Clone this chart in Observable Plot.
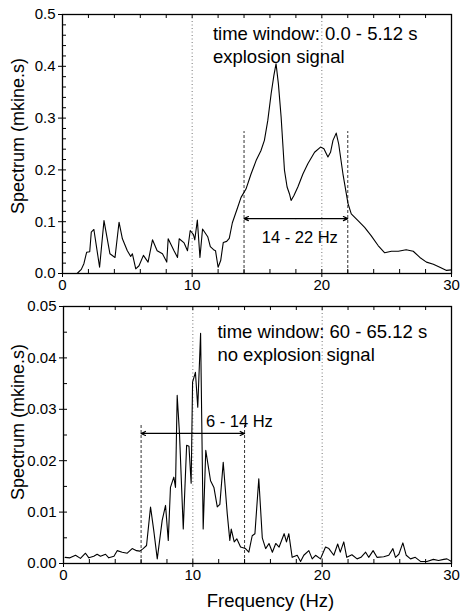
<!DOCTYPE html>
<html><head><meta charset="utf-8">
<script src="https://cdn.jsdelivr.net/npm/d3@7"></script>
<script src="https://cdn.jsdelivr.net/npm/@observablehq/plot@0.6"></script>
<style>
body{margin:0;background:#fff;}
#chart{width:460px;}
#chart svg{display:block;}
</style></head><body><div id="chart"></div>
<script>
// ---- data: top panel (time window 0.0 - 5.12 s) ----
const freqTop = [0,0.5,1.13,1.45,1.65,1.86,2.1,2.22,2.42,2.86,3.2,3.66,4.05,4.36,4.62,5.0,5.26,5.39,5.65,5.9,6.24,6.6,6.94,7.3,7.71,8.04,8.15,8.6,8.87,9.0,9.38,9.64,9.85,10.1,10.2,10.4,10.6,10.8,11.2,11.4,11.65,11.8,12.0,12.2,12.4,12.66,12.86,13.1,13.5,13.77,14.15,14.54,14.93,15.3,15.57,15.83,16.09,16.3,16.47,16.65,16.86,17.12,17.32,17.5,17.63,17.84,18.15,18.54,18.92,19.44,19.9,20.16,20.47,20.67,20.86,21.11,21.3,21.63,22.02,22.27,22.79,23.3,23.8,24.34,24.85,25.37,25.9,26.5,27.05,27.56,28.07,28.6,29.1,29.62,30.0];
const specTop = [0,0,0,0.008,0.019,0.041,0.042,0.080,0.085,0.012,0.102,0.038,0.031,0.099,0.067,0.044,0.033,0.038,0.009,0.015,0.035,0.022,0.065,0.044,0.038,0.022,0.067,0.044,0.031,0.067,0.059,0.044,0.083,0.075,0.065,0.103,0.031,0.086,0.071,0.052,0.046,0.044,0.012,0.025,0.060,0.062,0.068,0.098,0.127,0.147,0.163,0.192,0.218,0.237,0.257,0.295,0.347,0.382,0.405,0.366,0.302,0.199,0.167,0.154,0.141,0.150,0.167,0.192,0.212,0.234,0.244,0.241,0.225,0.234,0.257,0.271,0.250,0.192,0.135,0.115,0.102,0.089,0.073,0.054,0.040,0.043,0.043,0.046,0.043,0.031,0.022,0.018,0.012,0.006,0.007];

// ---- data: bottom panel (time window 60 - 65.12 s) ----
const freqBottom = [0.12,0.5,0.93,1.31,1.7,1.96,2.34,2.6,2.86,3.25,3.5,3.9,4.15,4.54,4.93,5.31,5.65,5.9,6.16,6.42,6.73,6.98,7.25,7.63,7.89,8.1,8.27,8.53,8.66,8.79,8.97,9.26,9.52,9.7,9.87,9.98,10.2,10.38,10.6,10.8,11.0,11.37,11.63,11.89,12.09,12.35,12.66,12.86,12.97,13.2,13.4,13.69,14.07,14.33,14.59,14.8,15.1,15.37,15.63,15.89,16.15,16.41,16.67,17.06,17.24,17.42,17.68,18.07,18.33,18.58,18.97,19.23,19.49,19.87,20.26,20.52,20.9,21.2,21.4,21.67,21.9,22.3,22.7,23.0,23.36,23.6,23.94,24.24,24.76,25.15,25.47,25.67,25.93,26.24,26.5,26.83,27.2,27.6,28.1,28.6,29.0,29.4,29.65,30.0];
const specBottom = [0.0012,0.0011,0.0016,0.0010,0.0020,0.0011,0.0014,0.0018,0.0014,0.0018,0.0011,0.0014,0.0025,0.0022,0.0020,0.0029,0.0025,0.0024,0.0029,0.0035,0.0110,0.0064,0.0009,0.0084,0.0113,0.0045,0.0148,0.0168,0.0148,0.0327,0.0252,0.0067,0.0230,0.0228,0.0156,0.0353,0.0372,0.0304,0.0448,0.0067,0.0220,0.0161,0.0148,0.0110,0.0115,0.0197,0.0097,0.0045,0.0067,0.0042,0.0048,0.0032,0.0029,0.0022,0.0054,0.0058,0.0165,0.0050,0.0029,0.0039,0.0022,0.0039,0.0032,0.0058,0.0042,0.0058,0.0012,0.0016,0.0004,0.0016,0.0025,0.0009,0.0016,0.0009,0.0032,0.0029,0.0016,0.0038,0.0022,0.0042,0.0012,0.0017,0.0009,0.0012,0.0022,0.0012,0.0025,0.0012,0.0013,0.0016,0.0029,0.0012,0.0018,0.0040,0.0016,0.0009,0.0012,0.0004,0.0004,0.0008,0.0006,0.0008,0.0009,0.0004];

// ---- ticks ----
const xMajorTicks = [0, 10, 20, 30];
const xMinorTicks = [0,2,4,6,8,10,12,14,16,18,20,22,24,26,28,30];
const yTopMajor = [0, 0.1, 0.2, 0.3, 0.4, 0.5];
const yTopMinor = [0,0.02,0.04,0.06,0.08,0.1,0.12,0.14,0.16,0.18,0.2,0.22,0.24,0.26,0.28,0.3,0.32,0.34,0.36,0.38,0.4,0.42,0.44,0.46,0.48,0.5];
const yBotMajor = [0, 0.01, 0.02, 0.03, 0.04, 0.05];
const yBotMinor = [0,0.005,0.01,0.015,0.02,0.025,0.03,0.035,0.04,0.045,0.05];
const gridFreqs = [10, 20];

// ---- annotations ----
const topBand = [14, 22];          const topBandHeight = 0.274; const topArrowLevel = 0.106;
const topBandLabel = "14 - 22 Hz"; const topBandLabelPos = [18.3, 0.069];
const botBand = [6, 14];           const botBandHeight = 0.0272; const botArrowLevel = 0.0253;
const botBandLabel = "6 - 14 Hz";  const botBandLabelPos = [13.6, 0.0275];
const topNoteLines = ["time window: 0.0 - 5.12 s", "explosion signal"];
const topNoteX = 11.6; const topNoteY = [0.463, 0.417];
const botNoteLines = ["time window: 60 - 65.12 s", "no explosion signal"];
const botNoteX = 11.9; const botNoteY = [0.045, 0.0405];
const yLabel = "Spectrum (mkine.s)";
const xLabel = "Frequency (Hz)";

const FONT = "'Liberation Sans', Arial, Helvetica, sans-serif";

function panel({freq, spec, yDomain, yMajor, yMinor, yFmt, band, bandHeight, arrowLevel, bandLabel, bandLabelPos, noteLines, noteX, noteY, height, marginTop, marginBottom, marginLeft, showXLabel, yLabelDy, yLabelDx}) {
  const pts = freq.map((f, i) => ({f, s: spec[i]}));
  const mid = (band[0] + band[1]) / 2;
  const arrows = band.map(b => ({from: mid, to: b, y: arrowLevel}));
  const notes = noteLines.map((t, i) => ({t, x: noteX, y: noteY[i]}));
  const marks = [
    Plot.ruleX(gridFreqs, {stroke: "#777", strokeDasharray: "1,2.5", strokeWidth: 1}),
    Plot.ruleX(band, {x: d => d, y1: 0, y2: bandHeight, stroke: "#333", strokeDasharray: "3,2", strokeWidth: 1}),
    Plot.line(pts, {x: "f", y: "s", stroke: "black", strokeWidth: 1.1}),
    Plot.arrow(arrows, {x1: "from", x2: "to", y1: "y", y2: "y", stroke: "black", strokeWidth: 1.2, headLength: 6, headAngle: 50}),
    Plot.text([{t: bandLabel, x: bandLabelPos[0], y: bandLabelPos[1]}], {x: "x", y: "y", text: "t", fontSize: 16.5, fill: "black"}),
    Plot.text(notes, {x: "x", y: "y", text: "t", textAnchor: "start", fontSize: 18.5, fill: "black"}),
    Plot.axisX(xMajorTicks, {tickSize: 0, tickPadding: 6, fontSize: 15, tickFormat: d => String(d), label: null}),
    Plot.axisY(yMajor, {tickSize: 0, tickPadding: 7, fontSize: 15, tickFormat: yFmt, label: null}),
    Plot.axisX(xMajorTicks, {tickSize: 4, text: null, label: null}),
    Plot.axisX(xMinorTicks, {tickSize: -4, text: null, label: null}),
    Plot.axisX(xMinorTicks, {anchor: "top", tickSize: -3, text: null, label: null}),
    Plot.axisY(yMajor, {tickSize: 4, text: null, label: null}),
    Plot.axisY(yMinor, {tickSize: -4, text: null, label: null}),
    Plot.frame({stroke: "black", strokeWidth: 1.3}),
    Plot.text([yLabel], {frameAnchor: "left", text: d => d, rotate: -90, textAnchor: "middle", lineAnchor: "middle", dx: yLabelDx, dy: yLabelDy, fontSize: 18, fill: "black"})
  ];
  if (showXLabel) {
    marks.push(Plot.text([xLabel], {frameAnchor: "bottom", text: d => d, textAnchor: "middle", lineAnchor: "middle", dx: 13, dy: 38, fontSize: 18.5, fill: "black"}));
  }
  return Plot.plot({
    width: 460, height, marginTop, marginBottom, marginLeft, marginRight: 9,
    style: {fontFamily: FONT, fontSize: "15px", color: "black", background: "white"},
    x: {domain: [0, 30]},
    y: {domain: yDomain},
    marks
  });
}

const topPanel = panel({freq: freqTop, spec: specTop, yDomain: [0, 0.5], yMajor: yTopMajor, yMinor: yTopMinor, yFmt: d3.format(".1f"),
  band: topBand, bandHeight: topBandHeight, arrowLevel: topArrowLevel, bandLabel: topBandLabel, bandLabelPos: topBandLabelPos,
  noteLines: topNoteLines, noteX: topNoteX, noteY: topNoteY, height: 295, marginTop: 14, marginBottom: 22, marginLeft: 62,
  showXLabel: false, yLabelDx: -44, yLabelDy: -8});
const bottomPanel = panel({freq: freqBottom, spec: specBottom, yDomain: [0, 0.05], yMajor: yBotMajor, yMinor: yBotMinor, yFmt: d3.format(".2f"),
  band: botBand, bandHeight: botBandHeight, arrowLevel: botArrowLevel, bandLabel: botBandLabel, bandLabelPos: botBandLabelPos,
  noteLines: botNoteLines, noteX: botNoteX, noteY: botNoteY, height: 320, marginTop: 11, marginBottom: 52, marginLeft: 63,
  showXLabel: true, yLabelDx: -45, yLabelDy: -13});
document.getElementById("chart").append(topPanel, bottomPanel);
</script></body></html>
